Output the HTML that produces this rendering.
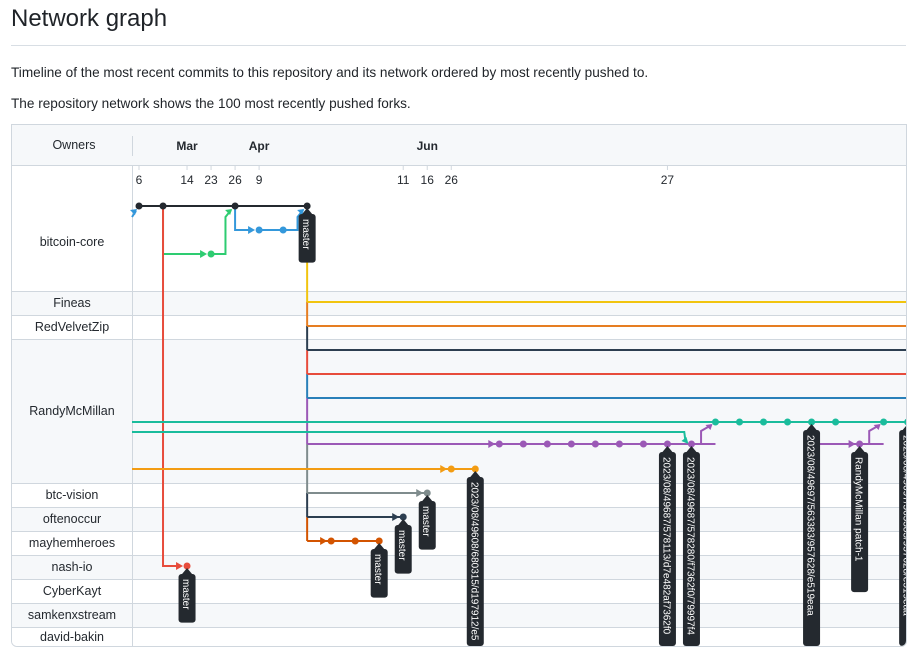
<!DOCTYPE html>
<html><head><meta charset="utf-8"><style>
body{margin:0;background:#fff;font-family:"Liberation Sans",Arial,sans-serif;color:#24292f;width:915px;height:656px;overflow:hidden;position:relative}
h1{position:absolute;left:11px;top:5px;margin:0;font-weight:400;font-size:24px;color:#1f2328}
.rule{position:absolute;left:11px;top:45px;width:895px;height:1px;background:#d8dee4}
p{position:absolute;left:11px;margin:0;font-size:13.6px;color:#1f2328}
#panel{position:absolute;left:11px;top:124px;width:894px;height:521px;border:1px solid #d0d7de;border-radius:0 0 6px 6px;overflow:hidden}
</style></head><body>
<h1>Network graph</h1>
<div class="rule"></div>
<p style="top:65px">Timeline of the most recent commits to this repository and its network ordered by most recently pushed to.</p>
<p style="top:96px">The repository network shows the 100 most recently pushed forks.</p>
<div id="panel">
<svg id="g" width="894" height="521" viewBox="11 124 894 521" xmlns="http://www.w3.org/2000/svg" font-family="Liberation Sans, Arial, sans-serif" style="display:block"></svg>
</div>
<script>
const owners=["bitcoin-core","Fineas","RedVelvetZip","RandyMcMillan","btc-vision","oftenoccur","mayhemheroes","nash-io","CyberKayt","samkenxstream","david-bakin"];
const rowBounds=[164,290,314,338,482,506,530,554,578,602,626,650];
const months=["Mar","Apr","Jun"];
const monthCols=[2,5,12];
const days=["6","14","23","26","9","11","16","26","27"];
const dayCols=[0,2,3,4,5,11,12,13,22];
const branchColors=["#24292f","#2ecc71","#3498db","#e74c3c","#f1c40f","#e67e22","#2c3e50","#e74c3c","#2980b9","#1abc9c","#1abc9c","#9b59b6","#f39c12","#7f8c8d","#2c3e50","#d35400","#9b59b6"];
const branchLanes=[205,253,229,565,301,325,349,373,397,421,431,443,468,492,516,540,443];
const branchCommits=[[0,1,4,7],[3],[5,6],[2],[],[],[],[],[],[24,25,26,27,28,29,31,32],[],[15,16,17,18,19,20,21,22,23],[13,14],[12],[11],[8,9,10],[30]];
const branchStart=[-1,1,4,1,7,7,7,7,7,-0.3,-0.3,7,-0.3,7,7,7,28];
const branchEnd=[7,4,7,2,33,33,33,33,33,33,22.5,24,14,12,11,10,31];
const labelCols=[7,2,10,11,12,14,22,23,28,30,32];
const labelYs=[213,573,548,524,500,476,451,451,429,451,429];
const labelTexts=["master","master","master","master","master","2023/08/49608/680315/d197912/e5","2023/08/49687/578113/d7e482af7362f0","2023/08/49687/578280/f7362f0/79997f4","2023/08/49697/563383/957628/e519eaa","RandyMcMillan patch-1","2023/08/49697/563383/957628/e519eaa"];
const X=c=>138+24.02*c;
const svg=document.getElementById('g');
const NS='http://www.w3.org/2000/svg';
function mk(t,a,p){const e=document.createElementNS(NS,t);for(const k in a)e.setAttribute(k,a[k]);(p||svg).appendChild(e);return e;}
owners.forEach((o,i)=>{
 const r=mk('rect',{x:11,y:rowBounds[i],width:894,height:rowBounds[i+1]-rowBounds[i],fill:i%2?'#f6f8fa':'#fff'});
 
 
 if(i>0)mk('line',{x1:11,x2:905,y1:rowBounds[i]+.5,y2:rowBounds[i]+.5,stroke:'#d0d7de'});
 let cy=(rowBounds[i]+Math.min(rowBounds[i+1],646))/2+4;
 if(i===0)cy=245;
 const t=mk('text',{x:71,y:cy,'text-anchor':'middle','font-size':12.5,fill:'#24292f'});
 t.textContent=o;
 
 
});
const hd=mk('rect',{x:11,y:124,width:894,height:40,fill:'#f6f8fa'});


mk('line',{x1:11,x2:905,y1:164.5,y2:164.5,stroke:'#d0d7de'});
mk('line',{x1:131.5,x2:131.5,y1:135,y2:155,stroke:'#d0d7de'});
mk('line',{x1:131.5,x2:131.5,y1:164,y2:646,stroke:'#d0d7de'});
const ot=mk('text',{x:73,y:148,'text-anchor':'middle','font-size':12.5,fill:'#24292f'});ot.textContent='Owners';


months.forEach((m,i)=>{const t=mk('text',{x:X(monthCols[i]),y:149,'text-anchor':'middle','font-size':12,'font-weight':'bold',fill:'#24292f'});t.textContent=m;
 
 });
days.forEach((d,i)=>{const x=X(dayCols[i]);mk('line',{x1:x,x2:x,y1:164,y2:169,stroke:'#d0d7de'});
 const t=mk('text',{x:x,y:183,'text-anchor':'middle','font-size':12,fill:'#24292f'});t.textContent=d;
 
 });
const vseg=[[215,301,4],[301,325,5],[325,349,6],[349,373,7],[373,397,8],[397,443,11],[443,492,13],[492,516,14],[516,540,15]];
vseg.forEach(s=>mk('line',{x1:X(7),x2:X(7),y1:s[0],y2:s[1],stroke:branchColors[s[2]],'stroke-width':2}));
function arrow(x,y,c){mk('path',{d:`M${x-7} ${y-4}L${x} ${y}L${x-7} ${y+4}Z`,fill:c});}
function uparrow(x,y,c){mk('path',{d:`M${x} ${y}l-7 1l5 5Z`,fill:c});}
// main line
const ml=mk('line',{x1:X(0),x2:X(7),y1:205,y2:205,stroke:branchColors[0],'stroke-width':2});


mk('path',{d:`M${X(1)} 205V253H${X(3)-7}`,stroke:branchColors[1],fill:'none','stroke-width':2});arrow(X(3)-4,253,branchColors[1]);
mk('path',{d:`M${X(3)} 253H${X(3.6)}V216L${X(4)-4} 209`,stroke:branchColors[1],fill:'none','stroke-width':2});uparrow(X(4)-3,208,branchColors[1]);
mk('path',{d:`M${X(4)} 205V229H${X(5)-6}`,stroke:branchColors[2],fill:'none','stroke-width':2});arrow(X(5)-4,229,branchColors[2]);
mk('line',{x1:X(5),x2:X(6),y1:229,y2:229,stroke:branchColors[2],'stroke-width':2});
mk('path',{d:`M${X(6)} 229H${X(6.6)}V216L${X(7)-4} 209`,stroke:branchColors[2],fill:'none','stroke-width':2});uparrow(X(7)-3,208,branchColors[2]);
mk('path',{d:`M131 216L135 210`,stroke:'#3498db','stroke-width':2});uparrow(136,208,'#3498db');
mk('path',{d:`M${X(1)} 205V565H${X(2)-6}`,stroke:branchColors[3],fill:'none','stroke-width':2});arrow(X(2)-4,565,branchColors[3]);
for(let b=4;b<branchColors.length;b++){
 if(b===10)continue;
 const y=branchLanes[b],c=branchColors[b];
 const x1=branchStart[b]<0?131:X(branchStart[b]),x2=Math.min(X(branchEnd[b]),906);
 const l=mk('line',{x1:x1,x2:x2,y1:y,y2:y,stroke:c,'stroke-width':2});
 
 
 if(branchCommits[b].length&&b!==9){arrow(X(branchCommits[b][0])-4,y,c);}
}
mk('path',{d:`M131 431H${X(22.7)}L${X(23)-6} 440`,stroke:branchColors[10],fill:'none','stroke-width':2});
mk('path',{d:`M${X(23)-3} 443l-2-7l-5 4Z`,fill:branchColors[10]});
mk('path',{d:`M${X(23)} 443H${X(23.4)}V430L${X(24)-4} 424`,stroke:'#9b59b6',fill:'none','stroke-width':2});uparrow(X(24)-3,423,'#9b59b6');
mk('path',{d:`M${X(28)} 421V443`,stroke:'#9b59b6','stroke-width':2});
mk('path',{d:`M${X(30)} 443H${X(30.4)}V430L${X(31)-4} 424`,stroke:'#9b59b6',fill:'none','stroke-width':2});uparrow(X(31)-3,423,'#9b59b6');
branchCommits.forEach((cs,b)=>cs.forEach(c=>{
 const d=mk('circle',{cx:X(c),cy:branchLanes[b],r:3.5,fill:branchColors[b]});
 
 
}));
labelCols.forEach((c,i)=>{
 const x=X(c),y=labelYs[i],txt=labelTexts[i];
 const len=Math.min(txt.length*6.1+12,645-y);
 const g=mk('g',{});
 
 
 mk('path',{d:`M${x} ${y-6}l-5 6h10Z`,fill:'#24292f'},g);
 mk('rect',{x:x-8.5,y:y,width:17,height:len,rx:3,fill:'#24292f'},g);
 const t=mk('text',{x:0,y:0,'font-size':10,fill:'#fff',transform:`translate(${x-4},${y+5}) rotate(90)`},g);
 t.textContent=txt;
});
</script>
</body></html>
